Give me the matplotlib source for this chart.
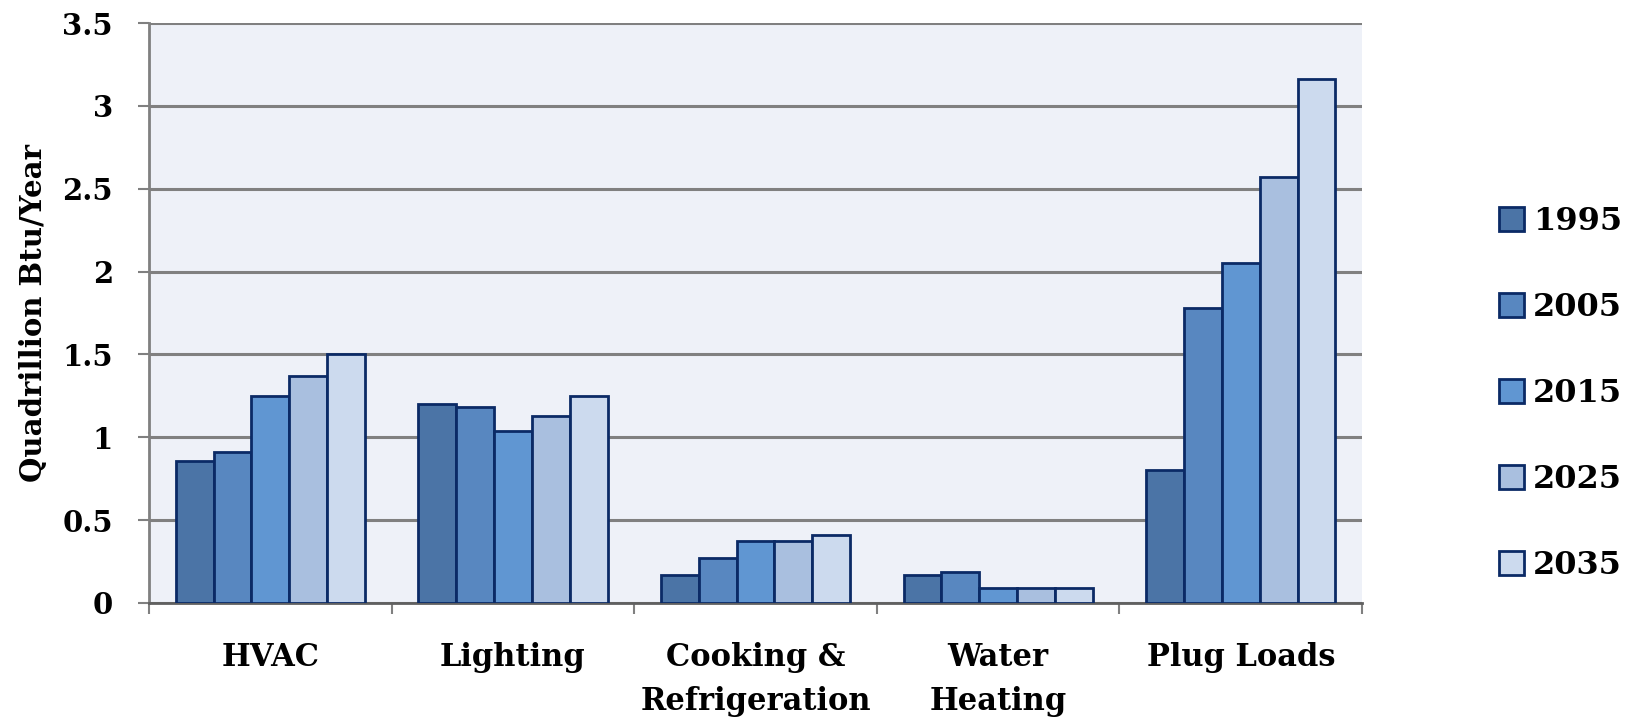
import matplotlib.pyplot as plt
import numpy as np
from matplotlib.ticker import FixedLocator, FuncFormatter

categories = ['HVAC', 'Lighting', 'Cooking &\nRefrigeration', 'Water\nHeating', 'Plug Loads']
years = ['1995', '2005', '2015', '2025', '2035']

# Quadrillion Btu per year, one list per year
q1995 = [0.86, 1.20, 0.17, 0.17, 0.80]
q2005 = [0.91, 1.18, 0.27, 0.185, 1.78]
q2015 = [1.25, 1.04, 0.375, 0.09, 2.05]
q2025 = [1.37, 1.13, 0.375, 0.09, 2.57]
q2035 = [1.50, 1.25, 0.41, 0.09, 3.16]

series = [q1995, q2005, q2015, q2025, q2035]
colors = ['#4b74a6', '#5887c0', '#6096d2', '#a9bfdf', '#ccdaee']
edge = '#0b2a66'

fig = plt.figure(figsize=(16.25, 7.23), dpi=100)
ax = fig.add_axes([0.0917, 0.166, 0.7465, 0.802])
ax.set_facecolor('#eef1f8')

x = np.arange(len(categories)) + 0.5
w = 0.156
for i, (vals, c, lab) in enumerate(zip(series, colors, years)):
    ax.bar(x + (i - 2) * w, vals, width=w, color=c, edgecolor=edge,
           linewidth=2, label=lab, zorder=3)

ax.set_xlim(0, len(categories))
ax.set_ylim(0, 3.5)
ax.set_yticks(np.arange(0, 3.51, 0.5))
ax.yaxis.set_major_formatter(FuncFormatter(lambda v, p: '{:g}'.format(v)))
ax.grid(axis='y', color='#808080', linewidth=2.2, zorder=1)

# category boundaries get the tick marks, names sit in between
ax.xaxis.set_major_locator(FixedLocator(np.arange(0, len(categories) + 1)))
ax.set_xticklabels([])
ax.set_xticks(x, minor=True)
ax.set_xticklabels(categories, minor=True, fontsize=22, fontweight='bold',
                   family='DejaVu Serif', linespacing=1.55)
ax.tick_params(axis='x', which='minor', length=0, pad=28)
ax.tick_params(axis='x', which='major', length=8, width=1.5, color='#808080')
ax.tick_params(axis='y', length=8, width=1.5, color='#808080', pad=18)
for t in ax.get_yticklabels():
    t.set_fontsize(21)
    t.set_fontweight('bold')
    t.set_family('DejaVu Serif')

for s in ['top', 'right']:
    ax.spines[s].set_visible(False)
ax.spines['left'].set_color('#808080')
ax.spines['left'].set_linewidth(2)
ax.spines['bottom'].set_color('#606060')
ax.spines['bottom'].set_linewidth(2)

ax.set_ylabel('Quadrillion Btu/Year', fontsize=21, fontweight='bold',
              family='DejaVu Serif', labelpad=10)

handles, labels = ax.get_legend_handles_labels()
leg = fig.legend(handles, labels, loc='center left', bbox_to_anchor=(0.905, 0.456),
                 frameon=False, handlelength=0.78, handleheight=0.78,
                 handletextpad=0.28, labelspacing=1.72,
                 prop={'family': 'DejaVu Serif', 'weight': 'bold', 'size': 23})

fig.savefig('out.png', dpi=100)
